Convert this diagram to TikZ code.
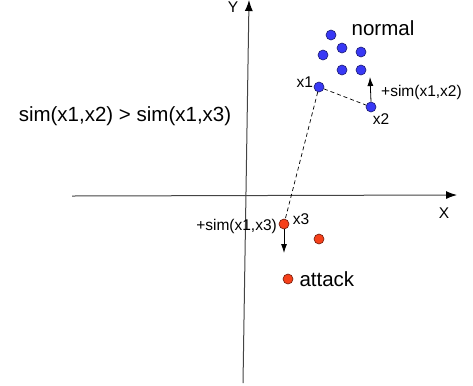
\documentclass[tikz,border=0pt]{standalone}
\usepackage{fontspec}
\setmainfont{Liberation Sans}
\usepackage{tikz}
\usetikzlibrary{arrows.meta,positioning}
\definecolor{NormalFill}{HTML}{3838F5}
\definecolor{NormalRule}{HTML}{1A1A6E}
\definecolor{AttackFill}{HTML}{F5401A}
\definecolor{AttackRule}{HTML}{6E1A0A}
\definecolor{AxisInk}{HTML}{444444}

\begin{document}
\begin{tikzpicture}[x=1bp,y=-1bp,
  axis/.style={draw=AxisInk,line width=1bp,-{Latex[length=11bp,width=8bp,color=black]}},
  normalpt/.style={circle,draw=NormalRule,fill=NormalFill,line width=0.6bp,inner sep=0pt,minimum size=10bp},
  attackpt/.style={circle,draw=AttackRule,fill=AttackFill,line width=0.6bp,inner sep=0pt,minimum size=10bp},
  big/.style={font=\fontsize{20.5bp}{24bp}\selectfont,inner sep=0pt},
  small/.style={font=\fontsize{15.5bp}{18bp}\selectfont,inner sep=0pt},
  simlink/.style={draw,dashed,line width=0.7bp,dash pattern=on 4bp off 3bp},
  push/.style={draw,line width=0.8bp,-{Latex[length=9bp,width=6bp]}}
]
\useasboundingbox (0,0) rectangle (473,385);
% axes
\coordinate (xFrom) at (72,196);
\coordinate (xTo) at (457,195);
\coordinate (yFrom) at (243,383);
\coordinate (yTo) at (249,0);
\draw[axis] (xFrom) -- (xTo);
\draw[axis] (yFrom) -- (yTo);
\node[small] (xLabel) at (444,213) {X};
\node[small] (yLabel) at (233,7) {Y};
% normal cluster
\node[normalpt] (n1) at (331,35) {};
\node[normalpt] (n2) at (342,48) {};
\node[normalpt] (n3) at (361,52) {};
\node[normalpt] (n4) at (323,55) {};
\node[normalpt] (n5) at (342,70) {};
\node[normalpt] (n6) at (361,70) {};
\node[normalpt] (x1) at (319,87) {};
\node[normalpt] (x2) at (371,107) {};
\node[big] (normalLabel) at (383,28) {normal};
\node[small,above left=-4bp and 2bp of x1] (x1Label) {x1};
\node[small,below right=3bp and -2bp of x2] (x2Label) {x2};
% attack cluster
\node[attackpt] (x3) at (284,224) {};
\node[attackpt] (a1) at (319,239) {};
\node[attackpt] (a2) at (288,279) {};
\node[big,right=6bp of a2] (attackLabel) {attack};
\node[small,above right=-5bp and 5bp of x3] (x3Label) {x3};
% similarity
\draw[simlink] (x1) -- (x2);
\draw[simlink] (x1) -- (x3);
\coordinate (up2) at (370,77);
\coordinate (down3) at (284,253);
\draw[push] (x2.north) -- (up2);
\draw[push] (x3.south) -- (down3);
\node[small,anchor=west] (sim12) at (381,92) {+sim(x1,x2)};
\node[small,anchor=east] (sim13) at (277,226) {+sim(x1,x3)};
\node[big] (claim) at (125,116) {sim(x1,x2) > sim(x1,x3)};
\end{tikzpicture}
\end{document}
